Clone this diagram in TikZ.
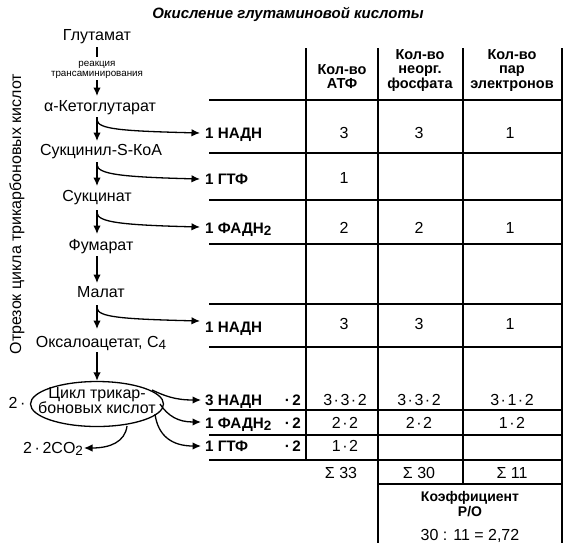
\documentclass[tikz,border=0pt]{standalone}
\usepackage{fontspec}
\setmainfont{Liberation Sans}
\usetikzlibrary{arrows.meta,shapes.geometric}
\newcommand\lowsub[1]{\raisebox{-0.3ex}{\fontsize{13.5}{13.5}\selectfont #1}}
\begin{document}
\begin{tikzpicture}[x=1pt,y=-1pt,
  every node/.style={inner sep=0pt},
  lbl/.style={anchor=base, font=\fontsize{16}{16}\selectfont},
  small/.style={anchor=base, font=\fontsize{9.8}{10}\selectfont},
  prod/.style={anchor=base west, font=\bfseries\fontsize{15.2}{15}\selectfont},
  mult/.style={anchor=base east, font=\bfseries\fontsize{15.2}{15}\selectfont},
  hdr/.style={anchor=base, font=\bfseries\fontsize{14.5}{14.5}\selectfont},
  val/.style={anchor=base, font=\fontsize{16}{16}\selectfont},
  arr/.style={line width=1.3pt, -{Latex[length=8.5pt,width=7.5pt]}},
  plain/.style={line width=1.3pt},
  rule/.style={line width=1.2pt}
]
\useasboundingbox (0,0) rectangle (564,547);
\fill[white] (0,0) rectangle (564,547);

% title
\node[anchor=base, font=\bfseries\itshape\fontsize{15}{15}\selectfont] (title) at (288,18) {Окисление глутаминовой кислоты};

% rotated side label
\node[rotate=90, font=\fontsize{16}{16}\selectfont] (side) at (17,214) {Отрезок цикла трикарбоновых кислот};

% pathway nodes
\node[lbl] (glu) at (97,40) {Глутамат};
\node[small] (r1) at (97,66) {реакция};
\node[small] (r2) at (97,76.5) {трансаминирования};
\node[lbl] (akg) at (100,111) {α-Кетоглутарат};
\node[lbl] (sco) at (101,155) {Сукцинил-S-КоА};
\node[lbl] (suc) at (97,201) {Сукцинат};
\node[lbl] (fum) at (101,250) {Фумарат};
\node[lbl] (mal) at (101,297) {Малат};
\node[lbl] (oxa) at (101,347) {Оксалоацетат, C\lowsub{4}};

\node[draw, ellipse, line width=1.3pt, minimum width=133pt, minimum height=45pt] (tca) at (97,404) {};
\node[lbl] (tca1) at (97,398) {Цикл трикар-};
\node[lbl] (tca2) at (97,413) {боновых кислот};
\node[lbl] (two) at (17,408) {2\,·};
\node[lbl] (co2) at (53,453) {2\,·\,2CO\lowsub{2}};

% coordinates along the pathway
\coordinate (g1) at (97,47);
\coordinate (g2) at (97,57);
\coordinate (a0) at (97,80);
\coordinate (a1) at (97,96);
\coordinate (b0) at (97,117);
\coordinate (b1) at (97,141);
\coordinate (bb) at (97,120);
\coordinate (c0) at (97,162);
\coordinate (c1) at (97,186);
\coordinate (cb) at (97,165);
\coordinate (d0) at (97,210);
\coordinate (d1) at (97,234);
\coordinate (db) at (97,213);
\coordinate (e0) at (97,256);
\coordinate (e1) at (97,283);
\coordinate (f0) at (97,305);
\coordinate (f1) at (97,329);
\coordinate (fb) at (97,308);
\coordinate (h0) at (97,352);

% products
\node[prod] (p1) at (205,138) {1 НАДН};
\node[prod] (p2) at (205,184) {1 ГТФ};
\node[prod] (p3) at (205,233) {1 ФАДН\lowsub{2}};
\node[prod] (p5) at (205,332) {1 НАДН};
\node[prod] (p6) at (205,405) {3 НАДН};
\node[prod] (p7) at (205,428) {1 ФАДН\lowsub{2}};
\node[prod] (p8) at (205,451) {1 ГТФ};
\node[mult] (m6) at (301,405) {·\,2};
\node[mult] (m7) at (301,428) {·\,2};
\node[mult] (m8) at (301,451) {·\,2};

\coordinate (t1) at (200,133);
\coordinate (t2) at (200,179);
\coordinate (t3) at (200,227);
\coordinate (t5) at (200,321);
\coordinate (t6) at (201,400);
\coordinate (t7) at (201,422);
\coordinate (t8) at (201,446);
\coordinate (s6) at (152,390);
\coordinate (s7) at (160,404);
\coordinate (s8) at (155,414);
\coordinate (s9) at (127,426);
\coordinate (t9) at (84,448);

% connectors
\draw[plain] (g1) -- (g2);
\draw[arr] (a0) -- (a1);
\draw[arr] (b0) -- (b1);
\draw[arr] (c0) -- (c1);
\draw[arr] (d0) -- (d1);
\draw[arr] (e0) -- (e1);
\draw[arr] (f0) -- (f1);
\draw[arr] (h0) -- (tca.north);
\draw[arr] (bb) .. controls (98,129) and (120,131) .. (t1);
\draw[arr] (cb) .. controls (98,174) and (120,177) .. (t2);
\draw[arr] (db) .. controls (98,222) and (120,225) .. (t3);
\draw[arr] (fb) .. controls (98,317) and (120,319) .. (t5);
\draw[arr] (s6) .. controls (165,396) and (175,400) .. (t6);
\draw[arr] (s7) .. controls (168,416) and (178,422) .. (t7);
\draw[arr] (s8) .. controls (158,436) and (172,446) .. (t8);
\draw[arr] (s9) .. controls (125,442) and (110,448) .. (t9);

% table rules
\foreach \yy in {100,153,200,244,304,347,410,435,460}
  \draw[rule] (209,\yy) -- (562,\yy);
\draw[rule] (378,484) -- (562,484);
\draw[rule] (306,48) -- (306,460);
\draw[rule] (378,48) -- (378,543);
\draw[rule] (463,48) -- (463,484);
\draw[rule] (562,48) -- (562,543);

% headers
\node[hdr] (h1a) at (342,74) {Кол-во};
\node[hdr] (h1b) at (342,88) {АТФ};
\node[hdr] (h2a) at (420,59) {Кол-во};
\node[hdr] (h2b) at (420,73) {неорг.};
\node[hdr] (h2c) at (420,88) {фосфата};
\node[hdr] (h3a) at (512,59) {Кол-во};
\node[hdr] (h3b) at (512,73) {пар};
\node[hdr] (h3c) at (512,88) {электронов};

% values
\node[val] (v11) at (344,138) {3};
\node[val] (v12) at (419,138) {3};
\node[val] (v13) at (510,138) {1};
\node[val] (v21) at (344,183) {1};
\node[val] (v31) at (344,233) {2};
\node[val] (v32) at (419,233) {2};
\node[val] (v33) at (510,233) {1};
\node[val] (v51) at (344,329) {3};
\node[val] (v52) at (419,329) {3};
\node[val] (v53) at (510,329) {1};
\node[val] (v61) at (345,405) {3\kern1.5pt·\kern1.5pt3\kern1.5pt·\kern1.5pt2};
\node[val] (v62) at (419,405) {3\kern1.5pt·\kern1.5pt3\kern1.5pt·\kern1.5pt2};
\node[val] (v63) at (512,405) {3\kern1.5pt·\kern1.5pt1\kern1.5pt·\kern1.5pt2};
\node[val] (v71) at (345,428) {2\kern1.5pt·\kern1.5pt2};
\node[val] (v72) at (419,428) {2\kern1.5pt·\kern1.5pt2};
\node[val] (v73) at (512,428) {1\kern1.5pt·\kern1.5pt2};
\node[val] (v81) at (345,451) {1\kern1.5pt·\kern1.5pt2};
\node[val] (v91) at (341,478) {Σ 33};
\node[val] (v92) at (419,478) {Σ 30};
\node[val] (v93) at (512,478) {Σ 11};

\node[hdr, font=\bfseries\fontsize{14}{14}\selectfont] (k1) at (470,501) {Коэффициент};
\node[hdr, font=\bfseries\fontsize{14}{14}\selectfont] (k2) at (470,516) {P/O};
\node[val] (k3) at (470,540) {30 : 11 = 2,72};
\end{tikzpicture}
\end{document}
